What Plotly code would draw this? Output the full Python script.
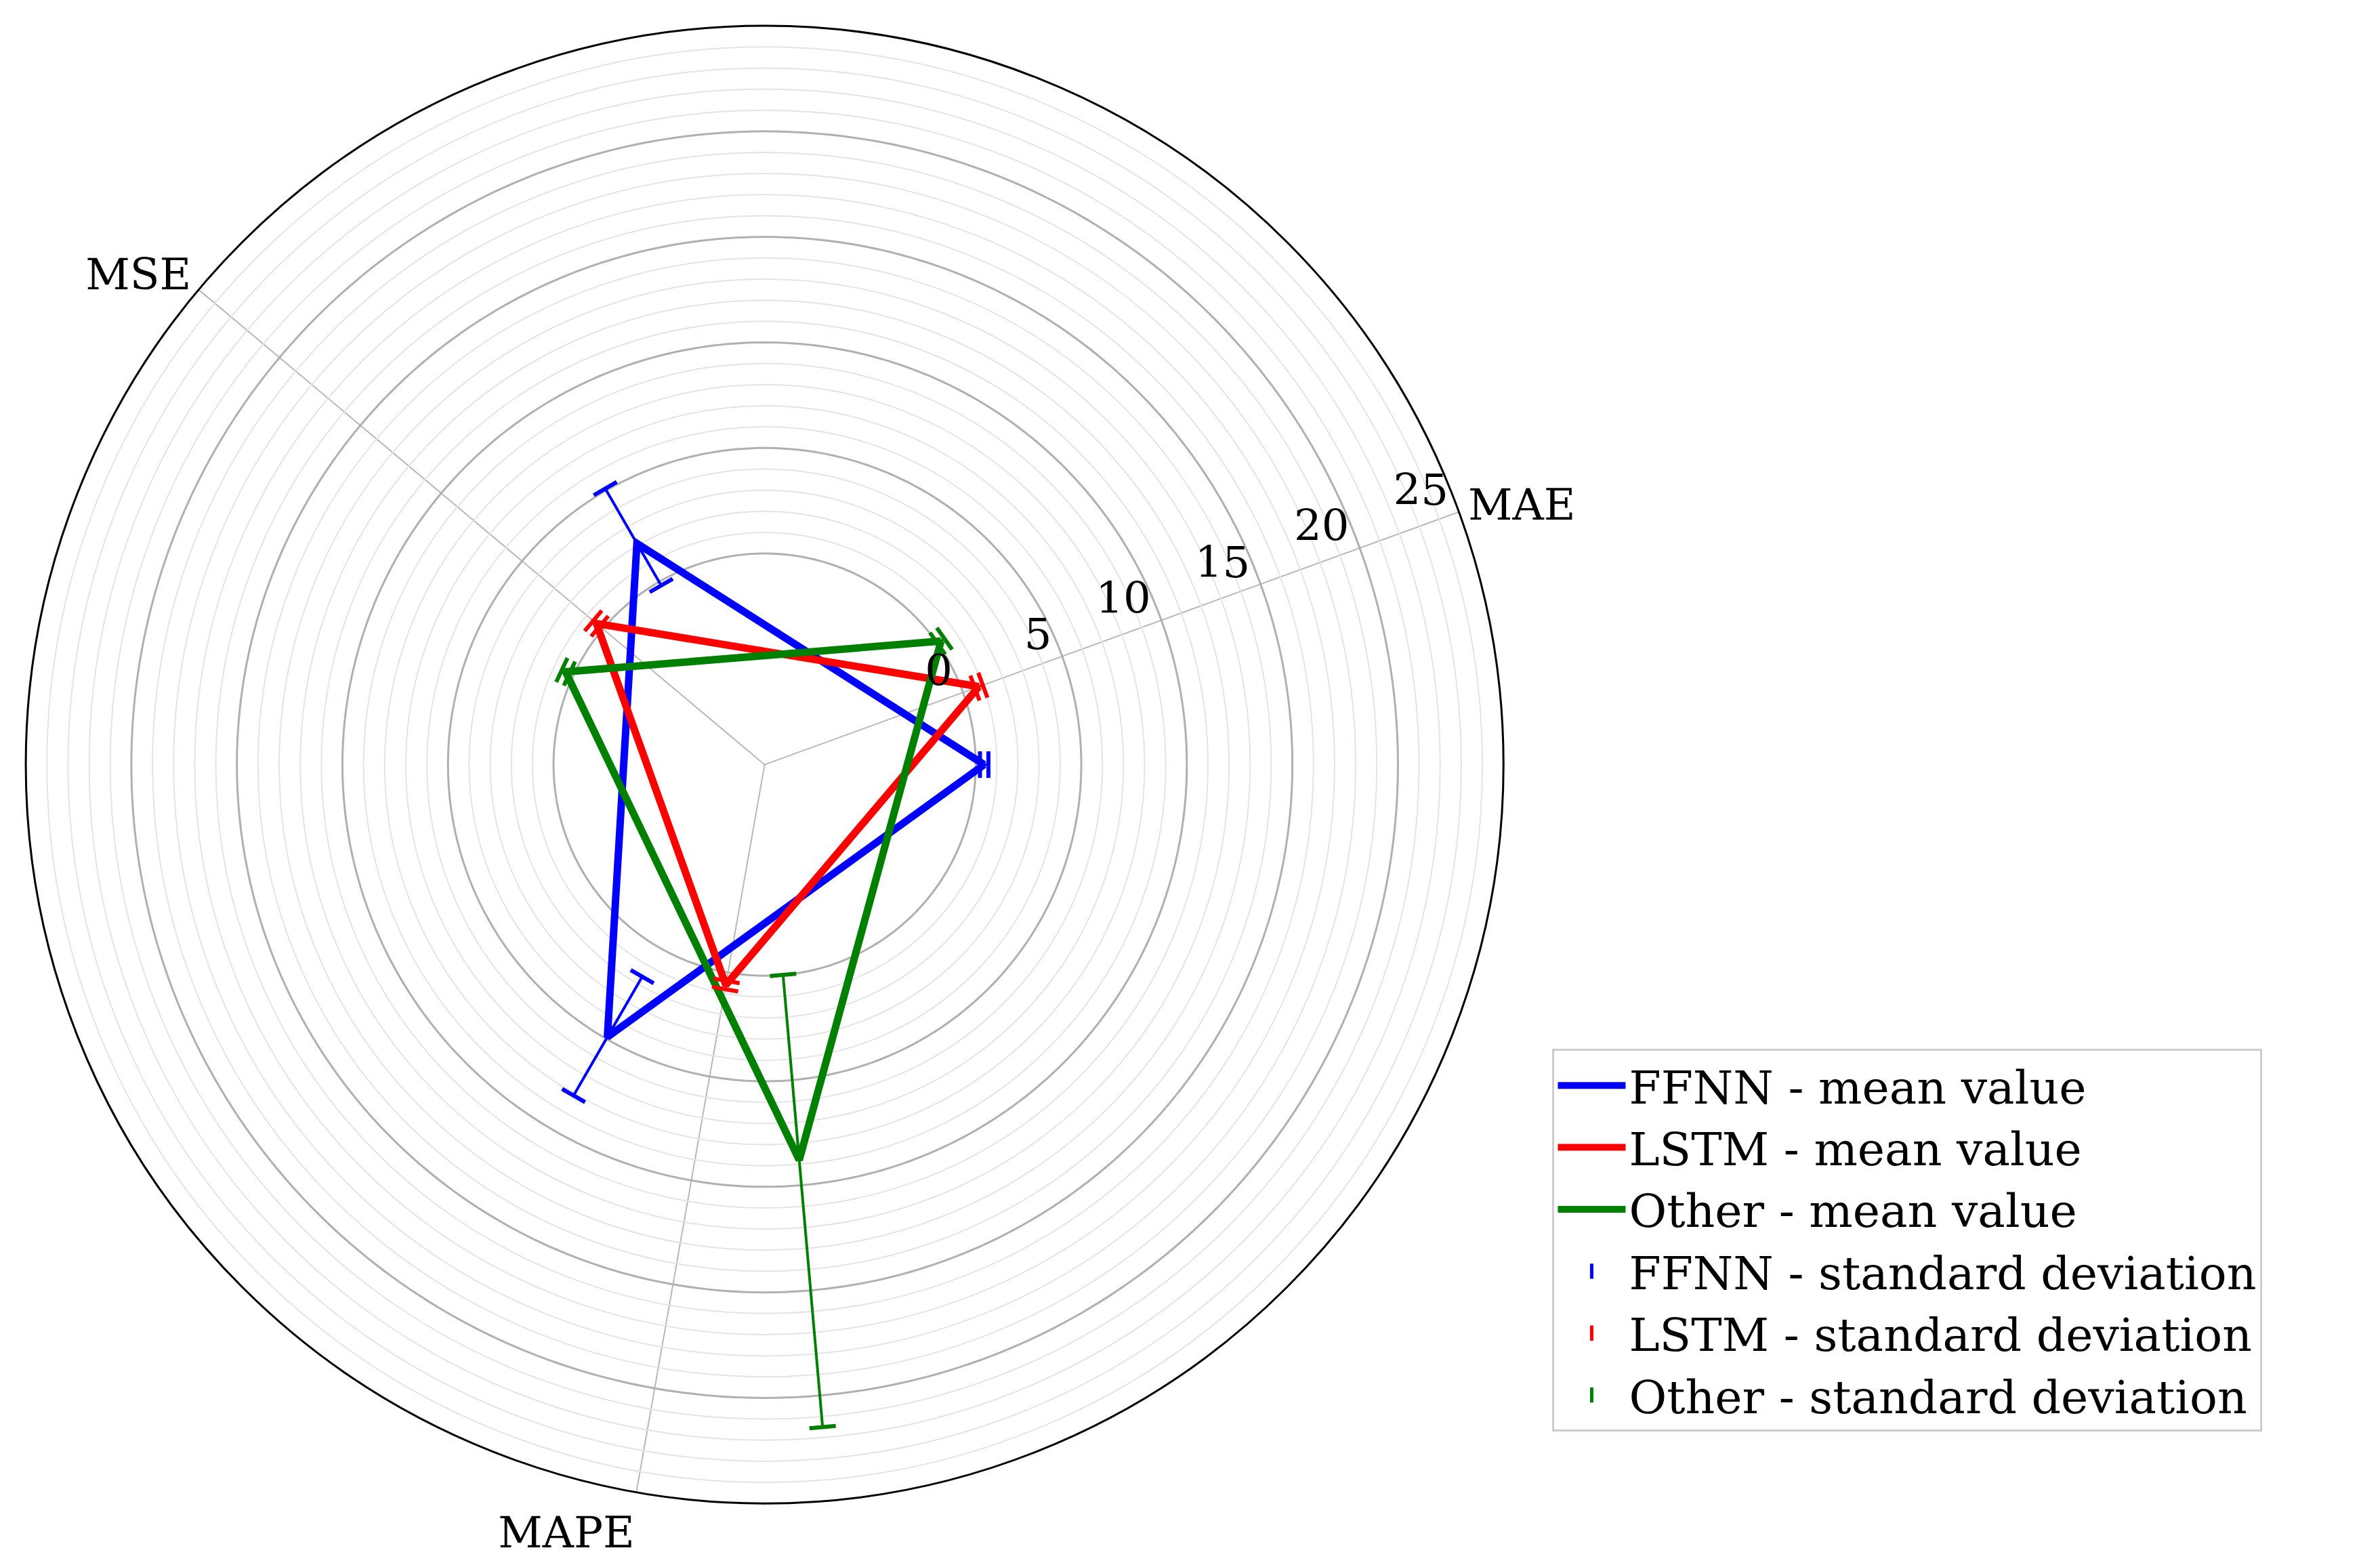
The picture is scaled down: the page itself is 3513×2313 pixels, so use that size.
import numpy as np
import plotly.graph_objects as go

metrics = ["MAE", "MSE", "MAPE"]
axis_angles = [20, 140, 260]
models = ["FFNN", "LSTM", "Other"]
colors = ["blue", "red", "green"]
offsets = [-20, 0, 15]  # angular shift per model so bars don't overlap

mean_vals = {
    "FFNN": [0.4, 2.1, 4.9],
    "LSTM": [0.8, 0.4, 0.6],
    "Other": [0.2, 0.4, 8.8],
}
std_low = {
    "FFNN": [0.2, -0.2, 1.6],
    "LSTM": [0.6, 0.2, 0.4],
    "Other": [0.0, 0.2, 0.0],
}
std_high = {
    "FFNN": [0.6, 5.1, 8.1],
    "LSTM": [1.0, 0.6, 0.8],
    "Other": [0.4, 0.6, 21.5],
}

font = "DejaVu Serif"
fig = go.Figure()

# major grid circles (darker)
circle_t = np.linspace(0, 360, 361)
for rv in [0, 5, 10, 15, 20]:
    fig.add_trace(go.Scatterpolar(r=[rv] * len(circle_t), theta=circle_t, mode="lines",
                                  line=dict(color="#b0b0b0", width=3), showlegend=False, hoverinfo="skip"))

for m, c, off in zip(models, colors, offsets):
    th = [a + off for a in axis_angles]
    fig.add_trace(go.Scatterpolar(r=mean_vals[m] + [mean_vals[m][0]], theta=th + [th[0]], mode="lines",
                                  line=dict(color=c, width=11), name=m + " - mean value"))

for m, c, off in zip(models, colors, offsets):
    th = [a + off for a in axis_angles]
    for i in range(3):
        fig.add_trace(go.Scatterpolar(r=[std_low[m][i], std_high[m][i]], theta=[th[i], th[i]],
                                      mode="lines+markers", line=dict(color=c, width=4),
                                      marker=dict(symbol="line-ew", size=28, angle=90 - th[i],
                                                  line=dict(color=c, width=6)),
                                      showlegend=False, hoverinfo="skip"))
    fig.add_trace(go.Scatterpolar(r=[None], theta=[None], mode="markers",
                                  marker=dict(symbol="line-ns", size=50, line=dict(color=c, width=5)),
                                  name=m + " - standard deviation"))

fig.update_layout(
    width=3513, height=2313,
    paper_bgcolor="white",
    font=dict(family=font, size=64, color="black"),
    margin=dict(l=0, r=0, t=0, b=0),
    polar=dict(
        domain=dict(x=[0.008, 0.63], y=[0.044, 0.987]),
        bgcolor="white",
        radialaxis=dict(range=[-10, 25], angle=20, tickangle=20, side="counterclockwise",
                        tickvals=list(range(0, 26)),
                        ticktext=[str(v) if v % 5 == 0 else "" for v in range(0, 26)],
                        gridcolor="#e4e4e4", gridwidth=2, showline=False, ticks="",
                        tickfont=dict(size=64)),
        angularaxis=dict(direction="counterclockwise", rotation=0,
                         tickmode="array", tickvals=axis_angles, ticktext=metrics,
                         gridcolor="#b8b8b8", gridwidth=2, linecolor="black", linewidth=3,
                         ticks="", tickfont=dict(size=64)),
    ),
    legend=dict(x=0.65, y=0.334, xanchor="left", yanchor="top", itemwidth=100,
                bordercolor="#cccccc", borderwidth=3, font=dict(size=68)),
)

fig.write_html("out.html")
